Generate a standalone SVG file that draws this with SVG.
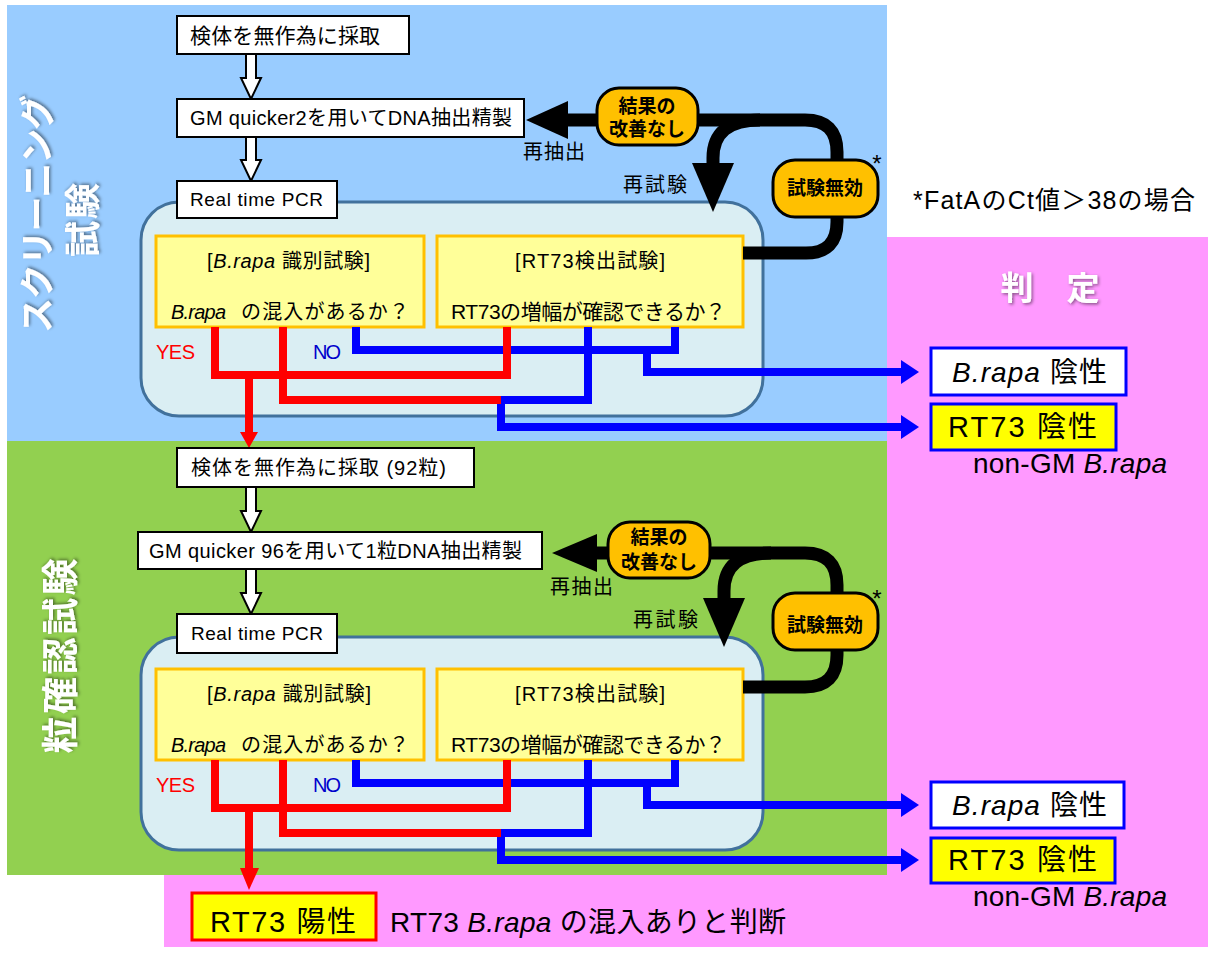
<svg xmlns="http://www.w3.org/2000/svg" width="1208" height="955" viewBox="0 0 1208 955">
<defs>
<filter id="sh" x="-20%" y="-20%" width="140%" height="140%"><feDropShadow dx="1.5" dy="1.5" stdDeviation="1.5" flood-color="#000" flood-opacity="0.45"/></filter>
</defs>
<style>
text{font-family:'Liberation Sans','Noto Sans CJK JP',sans-serif;fill:#000}
.wb{fill:#fff;stroke:#000;stroke-width:2}
.yb{fill:#FFFF99;stroke:#FFC000;stroke-width:3}
.rr{fill:#DAEEF3;stroke:#41719C;stroke-width:3}
.pill{fill:#FFC000;stroke:#000;stroke-width:3}
.ha{fill:#fff;stroke:#000;stroke-width:2}
.blk{fill:none;stroke:#000;stroke-width:13}
.red{fill:none;stroke:#FF0000;stroke-width:8}
.blu{fill:none;stroke:#0000FF;stroke-width:8}
.vt{fill:#fff;font-weight:bold;filter:url(#sh)}
.pt{font-size:19px;font-weight:bold;text-anchor:middle}
.lb{font-size:20px}
.it{font-style:italic}
</style>
<rect width="1208" height="955" fill="#fff"/>
<g id="backgrounds">
<rect x="7" y="5" width="880" height="436" fill="#99CCFF"/>
<rect x="7" y="441" width="880" height="434" fill="#92D050"/>
<path d="M887,237 H1208 V947 H164 V875 H887 Z" fill="#FF99FF"/>
</g>
<g id="section-labels">
<text class="vt" transform="translate(37,214) rotate(-90)" text-anchor="middle" dominant-baseline="central" font-size="35" textLength="238">スクリーニング</text>
<text class="vt" transform="translate(83,220) rotate(-90)" text-anchor="middle" dominant-baseline="central" font-size="36" textLength="74">試験</text>
<text class="vt" transform="translate(61,656) rotate(-90)" text-anchor="middle" dominant-baseline="central" font-size="37" textLength="195">粒確認試験</text>
<text class="vt" x="1050" y="300" text-anchor="middle" font-size="33">判　定</text>
<text x="913" y="209" font-size="25" textLength="282">*FatAのCt値＞38の場合</text>
</g>
<g id="pcr-frame-1"><rect class="rr" x="141" y="202" width="622" height="214" rx="38"/></g>
<g id="brapa-test-1">
<rect class="yb" x="156" y="236" width="268" height="91"/>
<text x="207" y="268" font-size="20" textLength="163">[<tspan class="it">B.rapa</tspan> 識別試験]</text>
<text x="171" y="319" font-size="20" class="it" textLength="55">B.rapa</text>
<text x="241" y="319" font-size="20" textLength="168">の混入があるか？</text>
</g>
<g id="rt73-test-1">
<rect class="yb" x="437" y="236" width="306" height="91"/>
<text x="515" y="268" font-size="20" textLength="150">[RT73検出試験]</text>
<text x="451" y="319" font-size="21" textLength="275">RT73の増幅が確認できるか？</text>
</g>
<g id="pcr-frame-2"><rect class="rr" x="141" y="637" width="622" height="213" rx="38"/></g>
<g id="brapa-test-2">
<rect class="yb" x="156" y="669" width="268" height="91"/>
<text x="207" y="701" font-size="20" textLength="164">[<tspan class="it">B.rapa</tspan> 識別試験]</text>
<text x="171" y="752" font-size="20" class="it" textLength="55">B.rapa</text>
<text x="241" y="752" font-size="20" textLength="168">の混入があるか？</text>
</g>
<g id="rt73-test-2">
<rect class="yb" x="437" y="669" width="306" height="91"/>
<text x="515" y="701" font-size="20" textLength="150">[RT73検出試験]</text>
<text x="451" y="752" font-size="21" textLength="275">RT73の増幅が確認できるか？</text>
</g>
<g id="connectors">
<path class="ha" d="M246,54 H256 V78 H261 L251,99 L241,78 H246 Z"/>
<path class="ha" d="M246,137 H256 V160 H261 L251,181 L241,160 H246 Z"/>
<path class="ha" d="M246,487 H256 V511 H261 L251,532 L241,511 H246 Z"/>
<path class="ha" d="M246,569 H256 V593 H261 L251,614 L241,593 H246 Z"/>
<path class="blk" d="M562,120 H805 Q837,120 837,152 V222 Q837,253 806,253 H743"/>
<path class="blk" d="M760,120 Q713,120 713,158 V166"/>
<polygon points="692,163 734,163 713,212" fill="#000"/>
<polygon points="526,120 568,101 568,139" fill="#000"/>
<path class="blk" d="M590,553 H805 Q837,553 837,585 V655 Q837,687 805,687 H743"/>
<path class="blk" d="M771,553 Q724,553 724,591 V600"/>
<polygon points="703,598 745,598 724,647" fill="#000"/>
<polygon points="552,553 597,534 597,572" fill="#000"/>
<path class="blu" d="M356,327 V350 H675 V327"/>
<path class="blu" d="M647,350 V372 H903"/>
<path class="blu" d="M588,327 V400 H501 V427 H903"/>
<polygon points="901,360 919,372 901,384" fill="#0000FF"/>
<polygon points="901,415 919,427 901,439" fill="#0000FF"/>
<path class="red" d="M215,327 V375 H507 V327"/>
<path class="red" d="M283,327 V400 H501"/>
<path class="red" d="M249,375 V436"/>
<polygon points="240,432 258,432 249,448" fill="#FF0000"/>
<path class="blu" d="M356,760 V783 H675 V760"/>
<path class="blu" d="M647,783 V805 H903"/>
<path class="blu" d="M588,760 V833 H501 V860 H903"/>
<polygon points="901,793 919,805 901,817" fill="#0000FF"/>
<polygon points="901,848 919,860 901,872" fill="#0000FF"/>
<path class="red" d="M215,760 V808 H507 V760"/>
<path class="red" d="M283,760 V833 H501"/>
<path class="red" d="M249,808 V872"/>
<polygon points="240,868 259,868 249,890" fill="#FF0000"/>
</g>
<g id="edge-labels">
<text x="156" y="359" font-size="20" style="fill:#FF0000" textLength="39">YES</text>
<text x="313" y="359" font-size="20" style="fill:#0000CC" textLength="28">NO</text>
<text x="156" y="792" font-size="20" style="fill:#FF0000" textLength="39">YES</text>
<text x="313" y="792" font-size="20" style="fill:#0000CC" textLength="28">NO</text>
<text class="lb" x="523" y="159" textLength="62">再抽出</text>
<text class="lb" x="623" y="192" textLength="64">再試験</text>
<text class="lb" x="550" y="594" textLength="63">再抽出</text>
<text class="lb" x="633" y="627" textLength="65">再試験</text>
<text x="877" y="172" font-size="24" text-anchor="middle">*</text>
<text x="877" y="607" font-size="24" text-anchor="middle">*</text>
</g>
<g id="sample-1"><rect class="wb" x="177" y="16" width="232" height="38"/><text x="190" y="43" font-size="21" textLength="190">検体を無作為に採取</text></g>
<g id="extract-1"><rect class="wb" x="177" y="99" width="347" height="38"/><text x="190" y="125" font-size="20" textLength="322">GM quicker2を用いてDNA抽出精製</text></g>
<g id="pcr-1"><rect class="wb" x="177" y="181" width="160" height="37"/><text x="190" y="206" font-size="19" textLength="133">Real time PCR</text></g>
<g id="no-improve-1"><rect class="pill" x="597" y="88" width="101" height="57" rx="22"/><text class="pt" x="647" y="113">結果の</text><text class="pt" x="647" y="136">改善なし</text></g>
<g id="invalid-1"><rect class="pill" x="773" y="160" width="105" height="57" rx="22"/><text class="pt" x="825" y="195">試験無効</text></g>
<g id="sample-2"><rect class="wb" x="177" y="448" width="297" height="39"/><text x="191" y="475" font-size="20" textLength="255">検体を無作為に採取 (92粒)</text></g>
<g id="extract-2"><rect class="wb" x="138" y="532" width="404" height="37"/><text x="149" y="558" font-size="20" textLength="373">GM quicker 96を用いて1粒DNA抽出精製</text></g>
<g id="pcr-2"><rect class="wb" x="177" y="614" width="160" height="39"/><text x="191" y="640" font-size="19" textLength="132">Real time PCR</text></g>
<g id="no-improve-2"><rect class="pill" x="608" y="522" width="102" height="56" rx="22"/><text class="pt" x="659" y="544">結果の</text><text class="pt" x="659" y="569">改善なし</text></g>
<g id="invalid-2"><rect class="pill" x="773" y="593" width="105" height="57" rx="22"/><text class="pt" x="825" y="632">試験無効</text></g>
<g id="brapa-neg-1"><rect x="931" y="348" width="195" height="47" fill="#fff" stroke="#0000FF" stroke-width="3"/><text x="952" y="382" font-size="28" textLength="155"><tspan class="it">B.rapa</tspan> 陰性</text></g>
<g id="rt73-neg-1"><rect x="931" y="404" width="185" height="46" fill="#FFFF00" stroke="#0000FF" stroke-width="3"/><text x="948" y="437" font-size="29" textLength="149">RT73 陰性</text></g>
<g id="nongm-1"><text x="973" y="473" font-size="28" textLength="194">non-GM <tspan class="it">B.rapa</tspan></text></g>
<g id="brapa-neg-2"><rect x="931" y="782" width="193" height="46" fill="#fff" stroke="#0000FF" stroke-width="3"/><text x="952" y="815" font-size="28" textLength="155"><tspan class="it">B.rapa</tspan> 陰性</text></g>
<g id="rt73-neg-2"><rect x="931" y="838" width="184" height="45" fill="#FFFF00" stroke="#0000FF" stroke-width="3"/><text x="948" y="870" font-size="29" textLength="149">RT73 陰性</text></g>
<g id="nongm-2"><text x="973" y="906" font-size="28" textLength="194">non-GM <tspan class="it">B.rapa</tspan></text></g>
<g id="rt73-pos"><rect x="192" y="893" width="184" height="47" fill="#FFFF00" stroke="#FF0000" stroke-width="3"/><text x="210" y="932" font-size="29" textLength="146">RT73 陽性</text></g>
<g id="rt73-pos-note"><text x="390" y="932" font-size="28" textLength="396">RT73 <tspan class="it">B.rapa</tspan> の混入ありと判断</text></g>
</svg>
